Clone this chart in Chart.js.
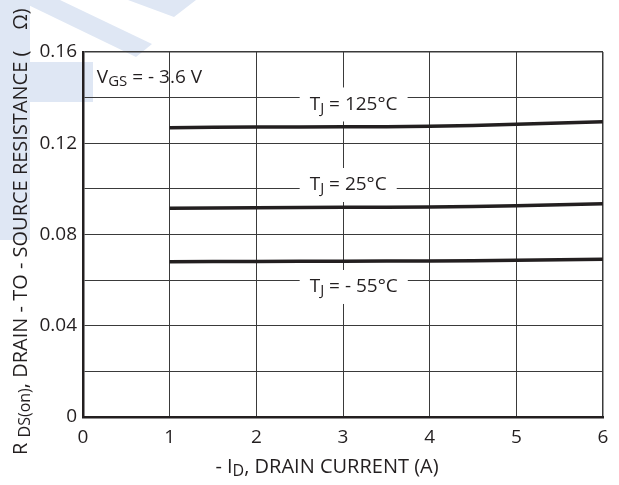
<!DOCTYPE html>
<html>
<head>
<meta charset="utf-8">
<title>RDS(on) vs Drain Current</title>
<script src="https://cdn.jsdelivr.net/npm/chart.js"></script>
<style>
    html, body { margin: 0; padding: 0; background: #fff; }
    #wrap { width: 619px; height: 485px; position: relative; }
</style>
</head>
<body>
<div id="wrap"><canvas id="rdsChart" width="619" height="485"></canvas></div>
<script>
// data
var currents = [1, 2, 3, 4, 5, 6];
var rds125 = [0.1268, 0.1271, 0.1272, 0.1274, 0.1283, 0.1294];
var rds25 = [0.0915, 0.0917, 0.0919, 0.0921, 0.0926, 0.0935];
var rdsMinus55 = [0.0681, 0.0682, 0.0683, 0.0684, 0.0687, 0.0691];
var xTickLabels = ['0', '1', '2', '3', '4', '5', '6'];
var yTickLabels = ['0', '0.04', '0.08', '0.12', '0.16'];

(function() {
    'use strict';

    var FONT = '"Open Sans", "Noto Sans", sans-serif';
    var WEIGHT = '500';
    var FS = 19;
    var INK = '#231f20';
    var GRID = '#3a3a3a';

    function toPoints(xs, ys) {
        return xs.map(function(x, i) { return { x: x, y: ys[i] }; });
    }

    // draws text made of parts, some of them subscript; returns width
    function drawParts(ctx, parts, x, y, size, measureOnly) {
        var cx = x;
        parts.forEach(function(p) {
            var s = p.sub ? Math.round(size * 0.8) : size;
            ctx.font = WEIGHT + ' ' + s + 'px ' + FONT;
            var w = ctx.measureText(p.t).width;
            if (!measureOnly) {
                ctx.fillText(p.t, cx, y + (p.sub ? size * 0.22 : 0));
            }
            cx += w;
        });
        return cx - x;
    }

    // curve labels, white box knocks out the grid behind them
    var curveLabels = [
        { x: 2.5, y: 0.137, parts: [{ t: 'T' }, { t: 'J', sub: true }, { t: ' = 125°C' }] },
        { x: 2.5, y: 0.1017, parts: [{ t: 'T' }, { t: 'J', sub: true }, { t: ' = 25°C' }] },
        { x: 2.5, y: 0.057, parts: [{ t: 'T' }, { t: 'J', sub: true }, { t: ' = - 55°C' }] }
    ];

    var labelPlugin = {
        id: 'labels',
        beforeDraw: function(chart) {
            // light blue watermark in the corner
            var ctx = chart.ctx;
            ctx.save();
            ctx.fillStyle = '#dfe7f4';
            ctx.beginPath();
            ctx.moveTo(0, 0); ctx.lineTo(30, 0); ctx.lineTo(30, 240); ctx.lineTo(0, 240);
            ctx.closePath(); ctx.fill();
            ctx.beginPath();
            ctx.moveTo(0, 62); ctx.lineTo(93, 62); ctx.lineTo(93, 102); ctx.lineTo(0, 102);
            ctx.closePath(); ctx.fill();
            ctx.beginPath();
            ctx.moveTo(18, 0); ctx.lineTo(60, 0); ctx.lineTo(152, 44); ctx.lineTo(136, 57);
            ctx.closePath(); ctx.fill();
            ctx.beginPath();
            ctx.moveTo(128, 0); ctx.lineTo(196, 0); ctx.lineTo(174, 17);
            ctx.closePath(); ctx.fill();
            ctx.restore();
        },
        beforeDatasetsDraw: function(chart) {
            var ctx = chart.ctx;
            var xs = chart.scales.x, ys = chart.scales.y;
            ctx.save();
            ctx.textBaseline = 'middle';
            ctx.textAlign = 'left';
            curveLabels.forEach(function(l) {
                var px = xs.getPixelForValue(l.x);
                var py = ys.getPixelForValue(l.y);
                var w = drawParts(ctx, l.parts, 0, 0, FS, true);
                ctx.fillStyle = '#fff';
                ctx.fillRect(px, py - 17, w + 20, 34);
                ctx.fillStyle = INK;
                drawParts(ctx, l.parts, px + 10, py, FS);
            });
            // V_GS note, top left
            ctx.fillStyle = INK;
            drawParts(ctx, [{ t: 'V' }, { t: 'GS', sub: true }, { t: ' = - 3.6 V' }],
                xs.getPixelForValue(0.16), ys.getPixelForValue(0.149), FS);
            ctx.restore();
        },
        afterDraw: function(chart) {
            var ctx = chart.ctx;
            ctx.save();
            ctx.fillStyle = INK;
            ctx.textBaseline = 'middle';
            ctx.textAlign = 'left';
            // x axis title
            var xt = [{ t: '- I' }, { t: 'D', sub: true }, { t: ', DRAIN CURRENT (A)' }];
            var w = drawParts(ctx, xt, 0, 0, 20, true);
            drawParts(ctx, xt, 327 - w / 2, 467, 20);
            // y axis title, rotated
            var yt = [{ t: 'R ' }, { t: 'DS(on)', sub: true }, { t: ', DRAIN - TO - SOURCE RESISTANCE (    Ω)' }];
            ctx.translate(21, 455);
            ctx.rotate(-Math.PI / 2);
            drawParts(ctx, yt, 0, 0, 20);
            ctx.restore();
        }
    };

    function lineSet(label, ys) {
        return {
            label: label,
            data: toPoints(currents, ys),
            borderColor: INK,
            borderWidth: 3.5,
            pointRadius: 0,
            tension: 0.3,
            fill: false
        };
    }

    var tickFont = { family: FONT, size: FS, weight: WEIGHT };

    var ctx = document.getElementById('rdsChart');
    new Chart(ctx, {
        type: 'line',
        data: {
            datasets: [
                lineSet('TJ = 125°C', rds125),
                lineSet('TJ = 25°C', rds25),
                lineSet('TJ = -55°C', rdsMinus55)
            ]
        },
        options: {
            responsive: false,
            animation: false,
            events: [],
            layout: { padding: { left: 0, right: 16, top: 52, bottom: 0 } },
            plugins: {
                legend: { display: false },
                tooltip: { enabled: false }
            },
            scales: {
                x: {
                    type: 'linear',
                    min: 0,
                    max: 6,
                    afterFit: function(s) { s.height = 68; },
                    border: { color: INK, width: 2.5 },
                    grid: {
                        color: GRID,
                        lineWidth: function(c) { return c.index === 6 ? 1.5 : 1; },
                        drawTicks: false
                    },
                    ticks: {
                        stepSize: 1,
                        padding: 9,
                        color: INK,
                        font: tickFont,
                        callback: function(v, i) { return xTickLabels[i]; }
                    }
                },
                y: {
                    min: 0,
                    max: 0.16,
                    afterFit: function(s) { s.width = 83; },
                    border: { color: INK, width: 2.5 },
                    grid: {
                        color: GRID,
                        lineWidth: function(c) { return c.index === 8 ? 1.5 : 1; },
                        drawTicks: false
                    },
                    ticks: {
                        stepSize: 0.02,
                        padding: 6,
                        color: INK,
                        font: tickFont,
                        callback: function(v, i) { return i % 2 ? '' : yTickLabels[i / 2]; }
                    }
                }
            }
        },
        plugins: [labelPlugin]
    });
})();
</script>
</body>
</html>
